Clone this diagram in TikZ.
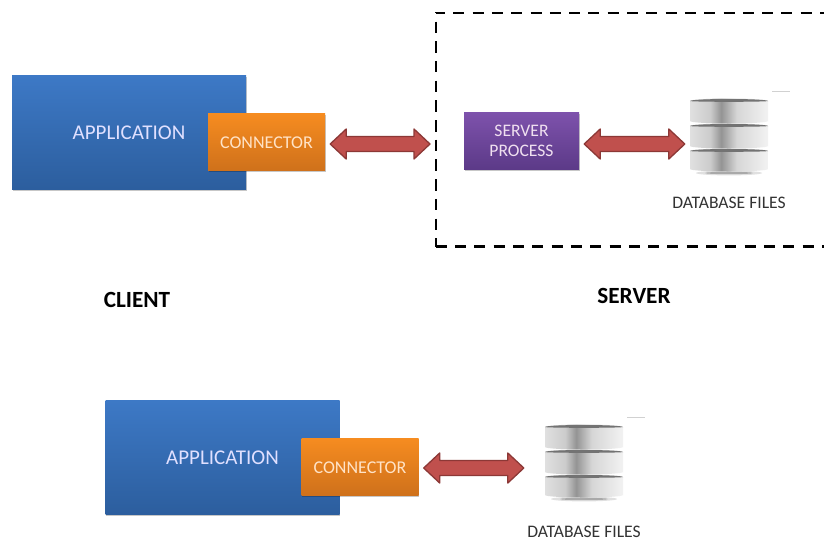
\documentclass[tikz,border=0pt]{standalone}
\usepackage{fontspec}
\setmainfont{Carlito}
\usetikzlibrary{shadows,calc}
\definecolor{bluetop}{HTML}{3D79C6}
\definecolor{bluebot}{HTML}{2C5E9E}
\definecolor{orgtop}{HTML}{F68C20}
\definecolor{orgbot}{HTML}{CF711B}
\definecolor{purtop}{HTML}{7E52AC}
\definecolor{purbot}{HTML}{5C3A88}
\definecolor{arrowfill}{HTML}{C0504D}
\definecolor{arrowline}{HTML}{8C3836}
\pgfdeclarehorizontalshading{discshade}{100bp}{
  color(0bp)=(black!48);
  color(8bp)=(black!30);
  color(25bp)=(black!12);
  color(38bp)=(black!20);
  color(45bp)=(black!42);
  color(55bp)=(black!16);
  color(75bp)=(black!5);
  color(90bp)=(black!18);
  color(100bp)=(black!55)}
\tikzset{
  softshadow/.style={drop shadow={shadow xshift=.8pt,shadow yshift=-1.6pt,opacity=.22,fill=black}},
  appbox/.style={rectangle,inner sep=0pt,minimum width=234pt,minimum height=114pt,
    top color=bluetop,bottom color=bluebot,softshadow,text=blue!12!white,text height=15.5pt,
    font=\fontsize{21}{23}\selectfont},
  connbox/.style={rectangle,inner sep=0pt,minimum width=117pt,minimum height=57pt,
    top color=orgtop,bottom color=orgbot,softshadow,text=orange!22!white,text height=13.6pt,
    font=\fontsize{18}{20}\selectfont},
  procbox/.style={rectangle,inner sep=0pt,minimum width=115pt,minimum height=57pt,
    top color=purtop,bottom color=purbot,softshadow,text=violet!12!white,align=center,
    font=\fontsize{17.6}{20}\selectfont},
  dbbox/.style={rectangle,inner sep=0pt,minimum width=78pt,minimum height=74pt},
  dblabel/.style={inner sep=0pt,text=black!80,font=\fontsize{17.6}{19}\selectfont},
  heading/.style={text=black,font=\bfseries\fontsize{23.2}{25}\selectfont},
  blockarrow/.style={fill=arrowfill,draw=arrowline,line width=1.3pt,line join=round},
  discrim/.style={fill=black!55},
  dashedge/.style={line width=2.5pt}
}
\newcommand{\dbdisc}[3]{% left x, top y, body height
  \shade[shading=discshade]
    (#1,#2) -- ++(0,#3) arc[start angle=180,end angle=360,x radius=39pt,y radius=2.5pt]
    -- ++(0,-#3) arc[start angle=0,end angle=180,x radius=39pt,y radius=2.5pt] -- cycle;
  \fill[discrim] (#1,#2) arc[start angle=180,end angle=0,x radius=39pt,y radius=2pt]
    arc[start angle=0,end angle=-180,x radius=39pt,y radius=.8pt] -- cycle;
}
\newcommand{\dbstack}[2]{% left x, top y
  \fill[black!30,opacity=.4] (#1+39,#2+74) ellipse[x radius=33pt,y radius=2.4pt];
  \fill[black!55,opacity=.5] (#1+39,#2+74) ellipse[x radius=24pt,y radius=1.2pt];
  \dbdisc{#1}{#2+2}{20}
  \dbdisc{#1}{#2+27}{20}
  \dbdisc{#1}{#2+52}{18}
  \draw[black!18,line width=.8pt] (#1+82,#2-8) -- (#1+100,#2-8);
}
% double-headed block arrow between two named points
\newcommand{\blockarr}[2]{%
  \draw[blockarrow] let \p1=(#1),\p2=(#2) in
    (\x1,\y1) -- (\x1+16pt,\y1+15pt) -- (\x1+16pt,\y1+7.5pt)
    -- (\x2-16pt,\y2+7.5pt) -- (\x2-16pt,\y2+15pt) -- (\x2,\y2)
    -- (\x2-16pt,\y2-15pt) -- (\x2-16pt,\y2-7.5pt)
    -- (\x1+16pt,\y1-7.5pt) -- (\x1+16pt,\y1-15pt) -- cycle;
}
\begin{document}
\begin{tikzpicture}[x=1pt,y=-1pt]
\useasboundingbox (0,0) rectangle (824,542);
\fill[white] (0,0) rectangle (824,542);

% upper client
\node[appbox] (appA) at (129,132) {APPLICATION};
\node[connbox] (connA) at (266.5,142) {CONNECTOR};

% server enclosure
\draw[dashedge,dash pattern=on 11pt off 8.3pt,dash phase=2pt] (436,13) -- (826,13);
\draw[dashedge,dash pattern=on 11.5pt off 8.2pt,dash phase=10.2pt] (436.2,12) -- (436.2,247);
\draw[dashedge,dash pattern=on 11pt off 8.3pt] (435.8,246.7) -- (826,246.7);
\coordinate (srvEdge) at (437,144);

\node[procbox] (proc) at (521.5,140.5) {SERVER\\PROCESS};
\node[dbbox] (dbA) at (729,136) {};
\dbstack{690}{99}
\node[dblabel] (dbA label) at (729,203) {DATABASE FILES};

\coordinate (a1s) at ($(connA.east)+(5,2)$);
\coordinate (a1e) at ($(srvEdge)+(-7,0)$);
\blockarr{a1s}{a1e}
\coordinate (a2s) at ($(proc.east)+(5,3.5)$);
\coordinate (a2e) at ($(dbA.west)+(-5,8)$);
\blockarr{a2s}{a2e}

\node[heading] (client) at (137,300) {CLIENT};
\node[heading] (server) at (634,296) {SERVER};

% lower embedded
\node[appbox] (appB) at (222.5,457) {APPLICATION};
\node[connbox] (connB) at (360,466.5) {CONNECTOR};
\node[dbbox] (dbB) at (584,462) {};
\dbstack{545}{425}
\node[dblabel] (dbB label) at (584,531.5) {DATABASE FILES};
\coordinate (a3s) at ($(connB.east)+(5,1.5)$);
\coordinate (a3e) at ($(dbB.west)+(-21,6)$);
\blockarr{a3s}{a3e}
\end{tikzpicture}
\end{document}
